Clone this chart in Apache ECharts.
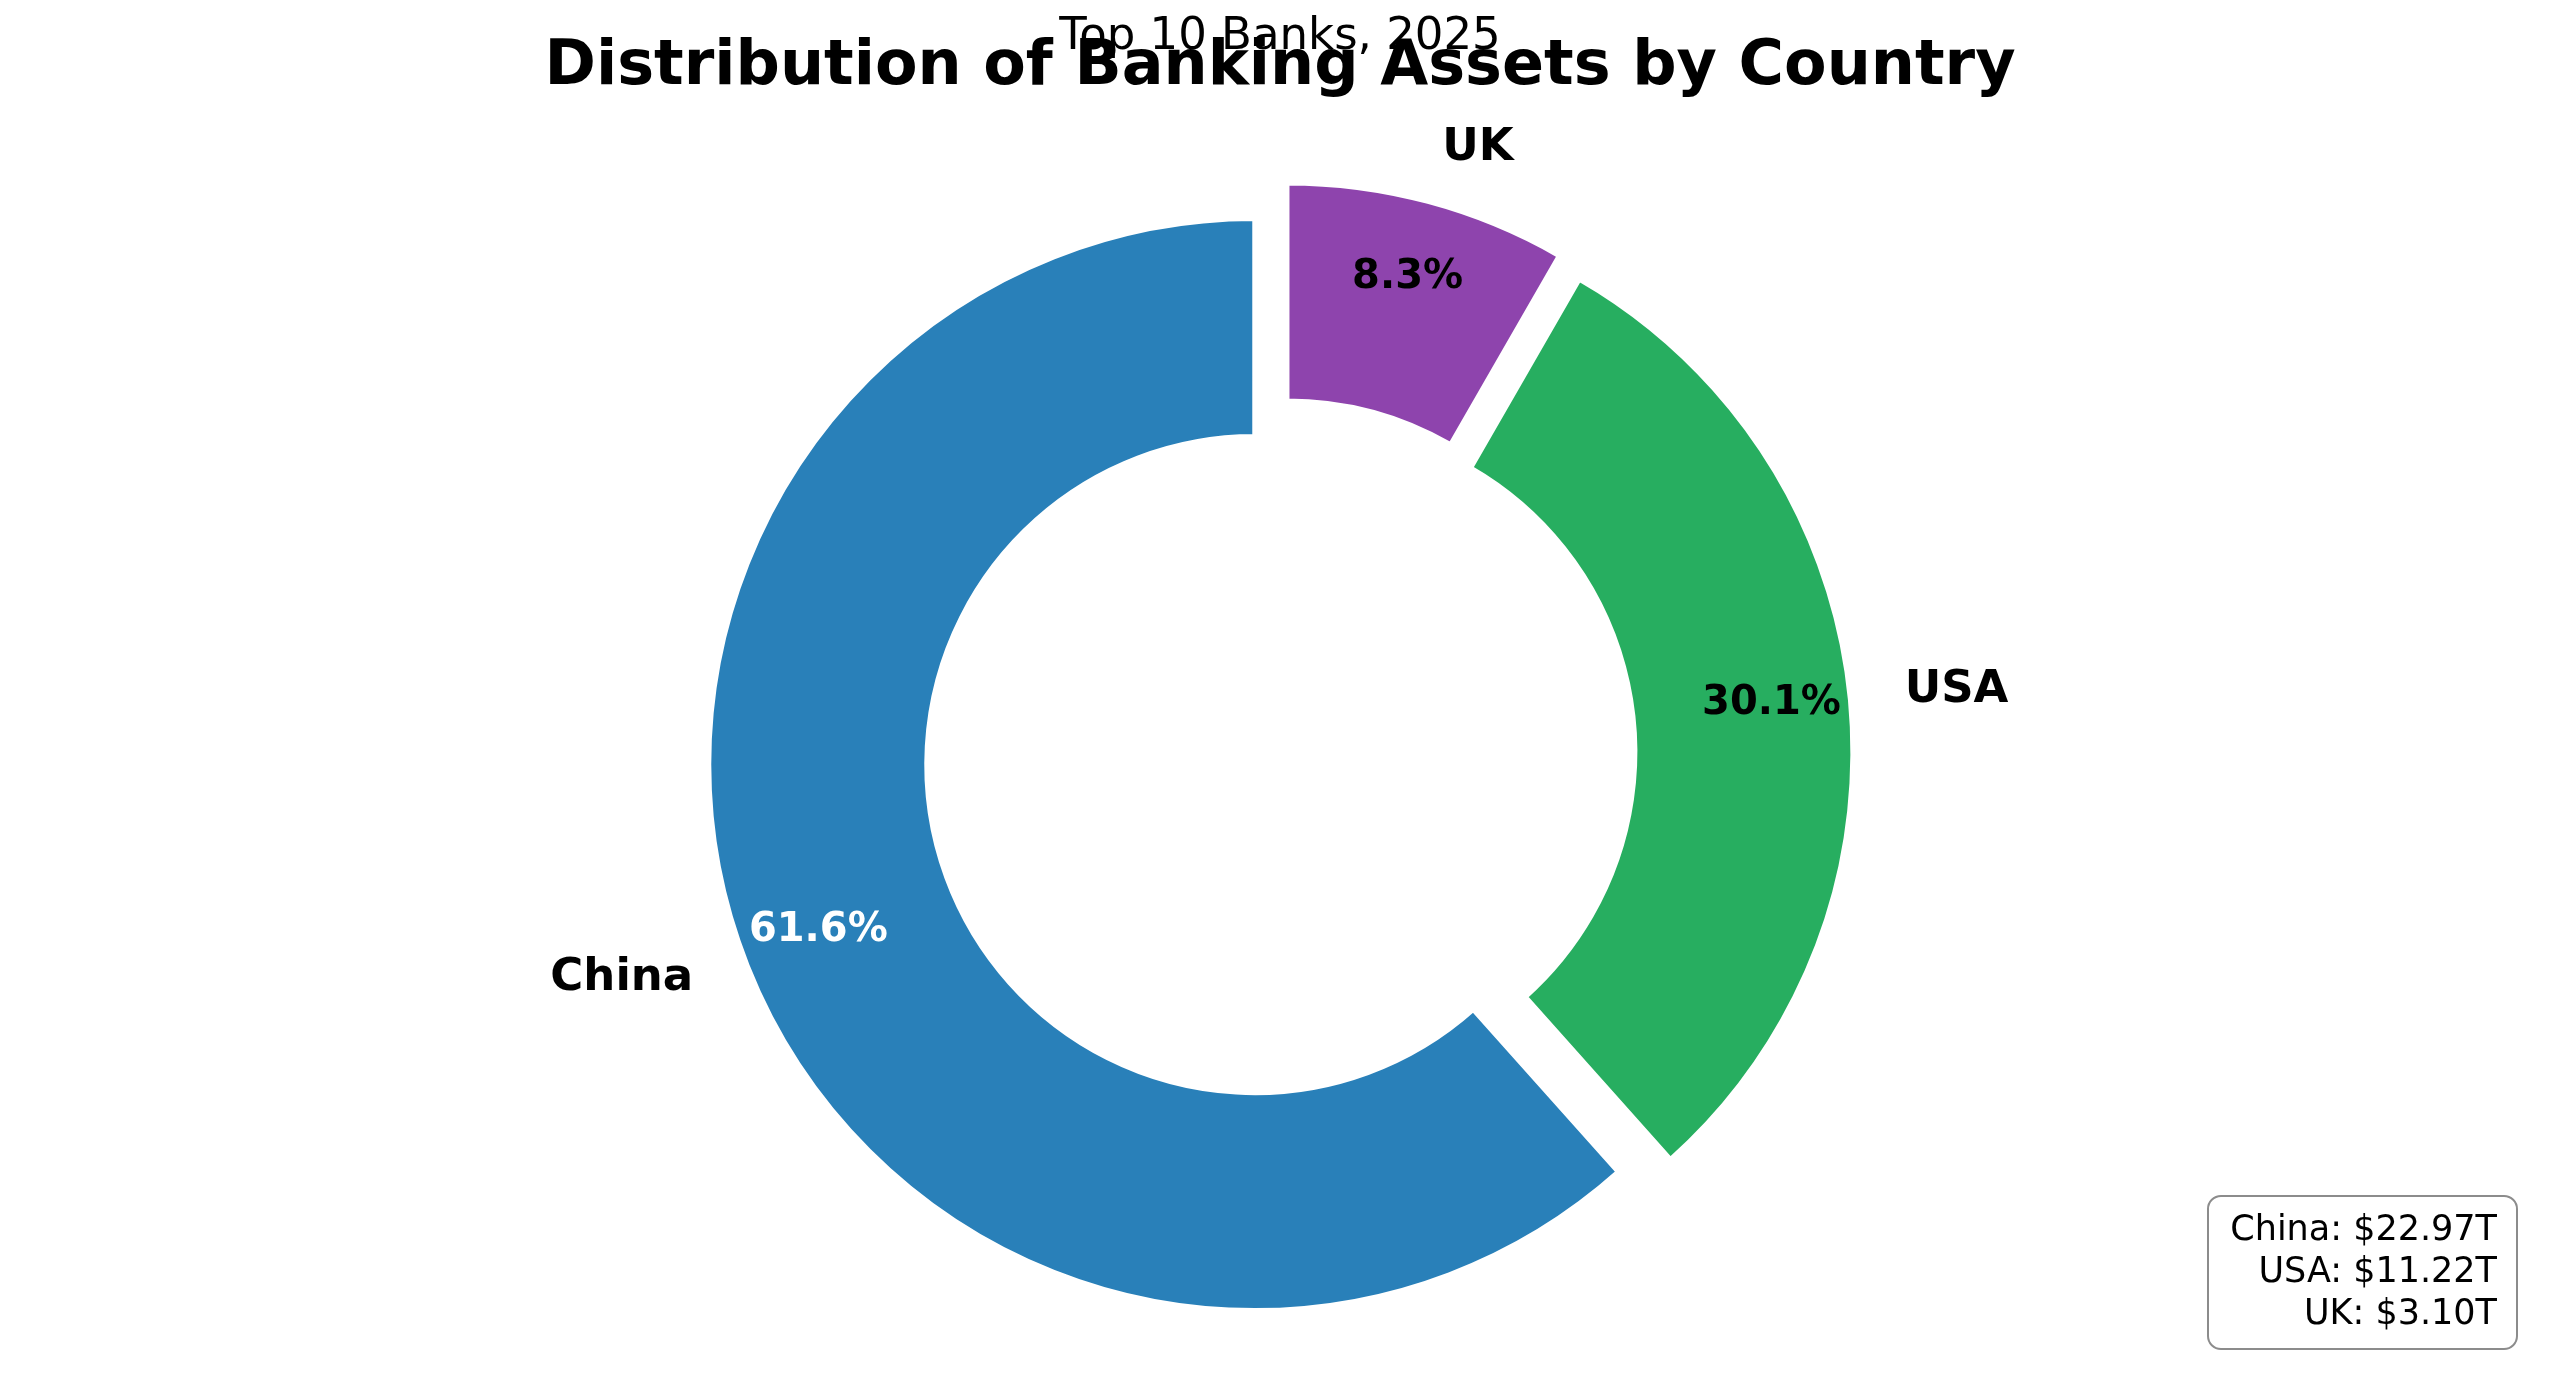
<!DOCTYPE html>
<html>
<head>
<meta charset="utf-8">
<script src="https://cdn.jsdelivr.net/npm/echarts@6/dist/echarts.min.js"></script>
<style>
html,body{margin:0;padding:0;background:#fff;}
#chart{width:2560px;height:1385px;}
</style>
</head>
<body>
<div id="chart"></div>
<script>
// ---- data ----
const countries = ['China', 'USA', 'UK'];
const assetsTrillions = [22.97, 11.22, 3.10];
const titleText = 'Distribution of Banking Assets by Country';
const subtitleText = 'Top 10 Banks, 2025';

// ---- styles ----
const palette = ['#2980b9', '#27ae60', '#8e44ad'];
const pctColors = ['#ffffff', '#000000', '#000000'];
const FONT = '"DejaVu Sans", sans-serif';
const CX = 1280, CY = 755, R = 546, R0 = 328, EXPLODE = 27;

const chart = echarts.init(document.getElementById('chart'), null, {renderer: 'canvas'});

const mainData = countries.map((c, i) => ({
  name: c, value: assetsTrillions[i], selected: true,
  itemStyle: {color: palette[i]}
}));
const pctData = countries.map((c, i) => ({
  name: c, value: assetsTrillions[i], selected: true,
  label: {color: pctColors[i]}
}));

const legendText = countries.map((c, i) => c + ': $' + assetsTrillions[i].toFixed(2) + 'T').join('\n');

chart.setOption({
  animation: false,
  backgroundColor: '#ffffff',
  title: [
    {text: titleText, left: 'center', top: 37, padding: 0,
     textStyle: {fontFamily: FONT, fontSize: 62, fontWeight: 'bold', color: '#000'}},
    {text: subtitleText, left: 'center', top: 15, padding: 0,
     textStyle: {fontFamily: FONT, fontSize: 45, fontWeight: 'normal', color: '#000'}}
  ],
  series: [
    {
      type: 'pie',
      center: [CX, CY],
      radius: [R0, R],
      startAngle: 90,
      clockwise: false,
      avoidLabelOverlap: false,
      selectedMode: 'multiple',
      selectedOffset: EXPLODE,
      silent: true,
      emphasis: {disabled: true, scale: false},
      itemStyle: {borderColor: '#ffffff', borderWidth: 5},
      label: {
        show: true, position: 'outside', formatter: '{b}',
        fontFamily: FONT, fontSize: 45, fontWeight: 'bold', color: '#000',
        distanceToLabelLine: 0
      },
      labelLine: {show: false, length: 55, length2: 0},
      data: mainData
    },
    {
      type: 'pie',
      center: [CX, CY],
      radius: [R * 0.7, R],
      startAngle: 90,
      clockwise: false,
      avoidLabelOverlap: false,
      selectedMode: 'multiple',
      selectedOffset: EXPLODE,
      percentPrecision: 1,
      silent: true,
      emphasis: {disabled: true, scale: false},
      itemStyle: {color: 'rgba(0,0,0,0)', borderWidth: 0},
      label: {
        show: true, position: 'inside', formatter: '{d}%',
        fontFamily: FONT, fontSize: 40, fontWeight: 'bold'
      },
      labelLine: {show: false},
      data: pctData
    }
  ],
  graphic: [
    {
      type: 'rect', z: 100,
      shape: {x: 2208, y: 1196, width: 309, height: 153, r: 13},
      style: {fill: 'rgba(255,255,255,0.85)', stroke: '#8c8c8c', lineWidth: 2}
    },
    {
      type: 'text', z: 101,
      style: {
        text: legendText, x: 2497, y: 1210,
        font: '35px "DejaVu Sans", sans-serif',
        textAlign: 'right', align: 'right',
        textVerticalAlign: 'top', verticalAlign: 'top',
        lineHeight: 42, fill: '#000'
      }
    }
  ]
});
</script>
</body>
</html>
